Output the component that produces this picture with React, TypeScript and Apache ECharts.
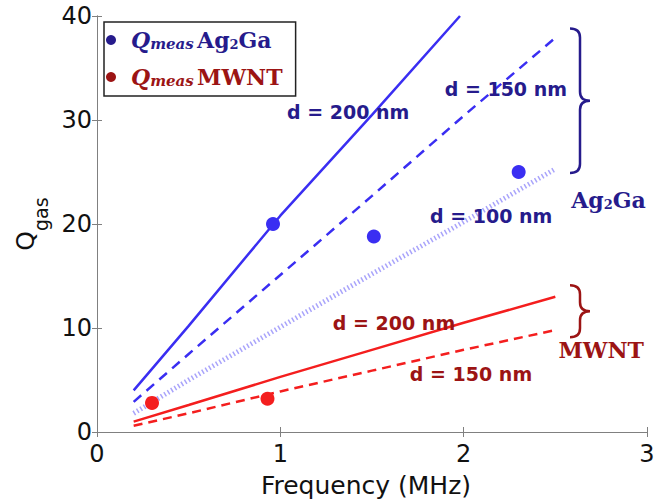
import React, { useEffect, useRef } from 'react';
import * as echarts from 'echarts';

// ---- data ----
const xTicks = [0, 1, 2, 3];
const yTicks = [0, 10, 20, 30, 40];
const modelX = [0.2, 0.5, 1.0, 1.5, 2.0, 2.5];
const agD200X = [0.2, 0.5, 1.0, 1.5, 1.98];
const agD200 = [4.0, 10.2, 20.8, 30.5, 40.0];
const agD150 = [2.9, 7.5, 15.1, 22.7, 30.4, 37.9];
const agD100 = [1.8, 5.0, 10.1, 15.2, 20.2, 25.3];
const mwD200 = [1.0, 2.6, 5.3, 7.9, 10.5, 13.0];
const mwD150 = [0.6, 1.8, 3.9, 5.9, 7.9, 9.8];
const agMeasX = [0.96, 1.51, 2.3];
const agMeasY = [20.0, 18.8, 25.0];
const mwMeasX = [0.3, 0.93];
const mwMeasY = [2.8, 3.2];

const legendAg = 'Qmeas Ag2Ga';
const legendMw = 'Qmeas MWNT';

// annotation anchors (data coords)
const labels = [
  { text: 'd = 200 nm', x: 1.37, y: 30.8, group: 'ag' },
  { text: 'd = 150 nm', x: 2.23, y: 33.0, group: 'ag' },
  { text: 'd = 100 nm', x: 2.15, y: 20.8, group: 'ag' },
  { text: 'd = 200 nm', x: 1.62, y: 10.5, group: 'mw' },
  { text: 'd = 150 nm', x: 2.04, y: 5.6, group: 'mw' },
];
const braces = [
  { x: 2.58, y0: 38.8, y1: 24.9, group: 'ag' },
  { x: 2.58, y0: 14.1, y1: 9.1, group: 'mw' },
];
const groupLabels = [
  { key: 'ag', x: 2.79, y: 22.3 },
  { key: 'mw', x: 2.75, y: 7.9 },
];

const BLUE = '#3a2ef2';
const BLUE_LIGHT = '#a9a4fb';
const RED = '#f41e1e';
const DBLUE = '#261b8c';
const DRED = '#9c1414';
const SERIF = '"DejaVu Serif", "Liberation Serif", serif';
const SANS = '"DejaVu Sans", "Liberation Sans", sans-serif';

const zip = (xs: number[], ys: number[]) => ys.map((y, i) => [xs[i], y]);

export default function App() {
  const ref = useRef<HTMLDivElement>(null);
  useEffect(() => {
    if (!ref.current) return;
    const chart = echarts.init(ref.current, null, { renderer: 'svg' });
    const axisLine = { show: true, lineStyle: { color: '#808080', width: 1 } };
    const tick = { show: true, inside: true, length: 5, lineStyle: { color: '#808080' } };
    const mk = (color: string) => ({
      q: { fontFamily: SERIF, fontStyle: 'italic', fontWeight: 'bold', fontSize: 22, color, verticalAlign: 'bottom', padding: [0, 0, 0, 8] },
      m: { fontFamily: SERIF, fontStyle: 'italic', fontWeight: 'bold', fontSize: 15, color, verticalAlign: 'bottom' },
      n: { fontFamily: SERIF, fontWeight: 'bold', fontSize: 22, color, verticalAlign: 'bottom' },
      s: { fontFamily: SERIF, fontWeight: 'bold', fontSize: 13, color, verticalAlign: 'bottom' },
    });
    const b = mk(DBLUE);
    const r = mk(DRED);
    const richLegend = {
      qb: b.q, mb: b.m, nb: b.n, sb: b.s,
      qr: r.q, mr: r.m, nr: r.n,
    };
    const option: any = {
      animation: false,
      backgroundColor: '#fff',
      grid: { left: 97, right: 22, top: 16, bottom: 72, show: false },
      legend: {
        left: 104,
        top: 22,
        orient: 'vertical',
        borderColor: '#222',
        borderWidth: 1.5,
        padding: [7, 13, 8, 2],
        itemGap: 15,
        itemWidth: 14,
        itemHeight: 10,
        icon: 'circle',
        selectedMode: false,
        data: [
          { name: legendAg, itemStyle: { color: DBLUE } },
          { name: legendMw, itemStyle: { color: DRED } },
        ],
        formatter: (n: string) =>
          n === legendAg ? '{qb|Q}{mb|meas} {nb|Ag}{sb|2}{nb|Ga}' : '{qr|Q}{mr|meas} {nr|MWNT}',
        textStyle: { rich: richLegend },
      },
      xAxis: [
        {
          type: 'value', min: xTicks[0], max: xTicks[xTicks.length - 1], interval: 1,
          axisLine, axisTick: tick, splitLine: { show: false },
          axisLabel: { color: '#111', fontSize: 24, fontFamily: SANS, margin: 10 },
          name: 'Frequency (MHz)', nameLocation: 'middle', nameGap: 41,
          nameTextStyle: { color: '#111', fontSize: 25, fontFamily: SANS, padding: [0, 12, 0, 0] },
        },
        {
          type: 'value', position: 'top', min: xTicks[0], max: xTicks[xTicks.length - 1], interval: 1,
          axisLine, axisTick: tick, axisLabel: { show: false }, splitLine: { show: false },
        },
      ],
      yAxis: [
        {
          type: 'value', min: yTicks[0], max: yTicks[yTicks.length - 1], interval: 10,
          axisLine, axisTick: tick, splitLine: { show: false },
          axisLabel: { color: '#111', fontSize: 24, fontFamily: SANS, margin: 5 },
          name: '{q|Q}{g|gas}', nameLocation: 'middle', nameGap: 44, nameRotate: 90,
          nameTextStyle: {
            rich: {
              q: { color: '#111', fontSize: 25, fontFamily: SANS, verticalAlign: 'top', lineHeight: 26 },
              g: { color: '#111', fontSize: 19, fontFamily: SANS, verticalAlign: 'bottom', lineHeight: 38 },
            },
          },
        },
        {
          type: 'value', position: 'right', min: yTicks[0], max: yTicks[yTicks.length - 1], interval: 10,
          axisLine, axisTick: tick, axisLabel: { show: false }, splitLine: { show: false },
        },
      ],
      series: [
        { name: 'ag200', type: 'line', data: zip(agD200X, agD200), showSymbol: false, lineStyle: { color: BLUE, width: 2.5 } },
        { name: 'ag150', type: 'line', data: zip(modelX, agD150), showSymbol: false, lineStyle: { color: BLUE, width: 2.5, type: [10, 7] } },
        { name: 'ag100', type: 'line', data: zip(modelX, agD100), showSymbol: false, lineStyle: { color: BLUE_LIGHT, width: 5, type: [1.5, 2.5] } },
        { name: 'mw200', type: 'line', data: zip(modelX, mwD200), showSymbol: false, lineStyle: { color: RED, width: 2.5 } },
        { name: 'mw150', type: 'line', data: zip(modelX, mwD150), showSymbol: false, lineStyle: { color: RED, width: 2.5, type: [9, 6] } },
        { name: legendAg, type: 'scatter', data: zip(agMeasX, agMeasY), symbolSize: 14, itemStyle: { color: BLUE, opacity: 1 }, z: 5 },
        { name: legendMw, type: 'scatter', data: zip(mwMeasX, mwMeasY), symbolSize: 14, itemStyle: { color: RED, opacity: 1 }, z: 5 },
      ],
    };
    chart.setOption(option);

    const toPx = (x: number, y: number) => chart.convertToPixel({ xAxisIndex: 0, yAxisIndex: 0 }, [x, y]) as number[];
    const graphics: any[] = [];
    labels.forEach((l) => {
      const p = toPx(l.x, l.y);
      graphics.push({
        type: 'text', x: p[0], y: p[1], z: 10,
        style: {
          text: l.text, fill: l.group === 'ag' ? DBLUE : DRED,
          fontSize: 19, fontWeight: 'bold', fontFamily: SANS, align: 'center', verticalAlign: 'middle',
        },
      });
    });
    braces.forEach((bb, i) => {
      const t = toPx(bb.x, bb.y0);
      const btm = toPx(bb.x, bb.y1);
      const x0 = t[0], y0 = t[1], y1 = btm[1];
      const x1 = x0 + 10, x2 = x0 + 20, ym = (y0 + y1) / 2, rr = 9;
      const d = `M${x0},${y0} Q${x1},${y0} ${x1},${y0 + rr} L${x1},${ym - rr} Q${x1},${ym} ${x2},${ym} Q${x1},${ym} ${x1},${ym + rr} L${x1},${y1 - rr} Q${x1},${y1} ${x0},${y1}`;
      const name = 'braceShape' + i;
      echarts.graphic.registerShape(name, (echarts.graphic as any).extendPath(d, {}));
      graphics.push({
        type: name, x: 0, y: 0, z: 10,
        style: { stroke: bb.group === 'ag' ? DBLUE : DRED, lineWidth: 2.5, fill: 'none' },
      });
    });
    groupLabels.forEach((g) => {
      const p = toPx(g.x, g.y);
      const col = g.key === 'ag' ? DBLUE : DRED;
      graphics.push({
        type: 'text', x: p[0], y: p[1], z: 10,
        style: {
          text: g.key === 'ag' ? '{n|Ag}{s|2}{n|Ga}' : '{n|MWNT}',
          align: 'center', verticalAlign: 'middle',
          rich: {
            n: { fontFamily: SERIF, fontWeight: 'bold', fontSize: 22, fill: col, color: col, verticalAlign: 'bottom' },
            s: { fontFamily: SERIF, fontWeight: 'bold', fontSize: 13, fill: col, color: col, verticalAlign: 'bottom' },
          },
        },
      });
    });
    chart.setOption({ graphic: graphics });
    return () => chart.dispose();
  }, []);
  return <div ref={ref} style={{ width: 669, height: 504, position: 'absolute', left: 0, top: 0 }} />;
}
